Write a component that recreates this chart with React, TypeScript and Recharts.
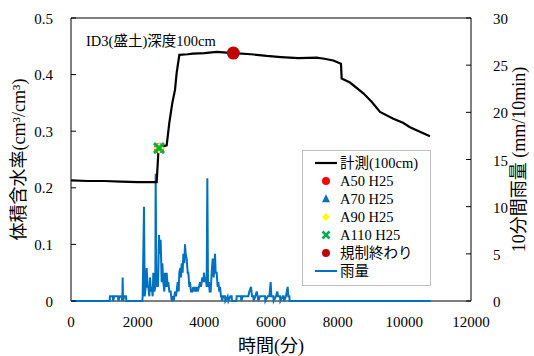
import { ComposedChart, Line, Scatter, XAxis, YAxis, ReferenceArea, Legend } from "recharts";

// volumetric water content at 100cm depth (minutes since start -> cm3/cm3)
const moistTimes = [
  0, 500, 1000, 1500, 2000, 2500, 2570, 2620, 2700, 2870, 2950, 3040, 3120, 3170, 3250,
  3500, 3660, 4000, 4370, 4870, 5400, 5870, 6300, 6820, 7370, 7600, 7870, 8100, 8120,
  8370, 8770, 9020, 9270, 9670, 9960, 10170, 10500, 10770,
];
const moistValues = [
  0.213, 0.212, 0.212, 0.211, 0.21, 0.21, 0.21, 0.262, 0.272, 0.275, 0.315, 0.35, 0.373, 0.403, 0.435,
  0.436, 0.437, 0.438, 0.44, 0.438, 0.436, 0.433, 0.431, 0.429, 0.43, 0.428, 0.425, 0.419, 0.393,
  0.386, 0.367, 0.352, 0.334, 0.322, 0.315, 0.307, 0.298, 0.291,
];

// 10-minute rainfall (mm/10min)
const rainTimes = [
  0, 1160, 1170, 1250, 1260, 1300, 1410, 1420, 1470, 1520, 1540, 1550, 1560, 1600, 1650, 1660,
  2140, 2150, 2190, 2210, 2240, 2270, 2300, 2320, 2350, 2370, 2400, 2420, 2450, 2470, 2500, 2530,
  2540, 2560, 2590, 2610, 2640, 2670, 2690, 2720, 2740, 2770, 2800, 2820, 2850, 2870, 2900, 2920,
  2950, 2990, 3020, 3050, 3080, 3120, 3150, 3200, 3230, 3250, 3280, 3300, 3320, 3350, 3370, 3400,
  3420, 3440, 3470, 3500, 3520, 3550, 3570, 3600, 3640, 3670, 3700, 3720, 3750, 3770, 3800, 3840,
  3870, 3900, 3940, 3970, 3990, 4020, 4040, 4070, 4090, 4110, 4140, 4160, 4190, 4220, 4250, 4280,
  4320, 4340, 4370, 4400, 4420, 4450, 4470, 4500, 4520, 4530, 4570, 4620, 4630, 4700, 4720, 4780,
  4820, 4830, 4960, 4970, 5100, 5110, 5150, 5320, 5350, 5400, 5430, 5470, 5480, 5530, 5570, 5600,
  5620, 5670, 5820, 5830, 5900, 5950, 5990, 6010, 6070, 6080, 6150, 6190, 6210, 6270, 6280, 6350,
  6380, 6390, 6450, 6500, 6520, 6550, 6560, 10800,
];
const rainMm = [
  0, 0, 0.5, 0.5, 0, 0.5, 0.5, 0, 0.5, 0.5, 0, 2.5, 0, 0.5, 0.5, 0,
  0, 0.5, 10, 0.5, 1.5, 3.5, 1.5, 1.5, 0.5, 2.5, 1, 1.5, 0.5, 3, 1, 1.5,
  13.5, 1.5, 2, 1.5, 7, 5, 6.5, 2, 4, 2, 1, 3, 1.5, 3, 1.5, 2,
  1, 1, 0, 0.5, 0, 1, 0.5, 2, 1, 3, 3.5, 2.5, 4, 3, 5, 4,
  6, 5, 4.5, 3, 3, 1.5, 2, 1, 1, 1.5, 1, 1.5, 1, 1.5, 1, 1.5,
  2, 1.5, 2.5, 2, 3, 2, 2.5, 1.5, 13, 1.5, 2, 1, 1, 3, 4.5, 2.5,
  5, 3, 3, 1.5, 2, 1, 1.5, 0.5, 0.5, 0, 0.5, 0.5, 0, 0.5, 0, 0.5,
  0.5, 0, 0, 0.5, 0.5, 0, 0.5, 0.5, 1, 1.5, 0.5, 0.5, 0, 0.5, 1, 0.5,
  0, 0.5, 0.5, 0, 0.5, 0.5, 2, 0.5, 0.5, 0, 0.5, 1, 0.5, 0.5, 0, 0.5,
  0.5, 0, 0.5, 1.5, 0.5, 0.5, 0, 0,
];

// threshold lines A50..A110 were all crossed at the same reading
const thresholdHit = [{ t: 2640, v: 0.27 }];
const regulationEnd = [{ t: 4870, v: 0.438 }];

const xTicks = [0, 2000, 4000, 6000, 8000, 10000, 12000];
const moistTicks = [0, 0.1, 0.2, 0.3, 0.4, 0.5];
const rainTicks = [0, 5, 10, 15, 20, 25, 30];

const moistData = moistTimes.map((t, i) => ({ t, v: moistValues[i] }));
const rainData = rainTimes.map((t, i) => ({ t, mm: rainMm[i] }));

const SERIF = "Liberation Serif, DejaVu Serif, Noto Sans CJK JP, serif";
const RAIN_BLUE = "#0070C0";

const Dot = ({ cx, cy, r, color }: any) => <circle cx={cx} cy={cy} r={r} fill={color} />;
const Tri = ({ cx, cy, s, color }: any) => (
  <polygon points={`${cx},${cy - s * 0.6} ${cx + s / 2},${cy + s * 0.4} ${cx - s / 2},${cy + s * 0.4}`} fill={color} />
);
const Diamond = ({ cx, cy, s, color }: any) => (
  <polygon points={`${cx},${cy - s / 2} ${cx + s / 2},${cy} ${cx},${cy + s / 2} ${cx - s / 2},${cy}`} fill={color} />
);
const Cross = ({ cx, cy, s, w, color }: any) => (
  <g stroke={color} strokeWidth={w}>
    <line x1={cx - s / 2} y1={cy - s / 2} x2={cx + s / 2} y2={cy + s / 2} />
    <line x1={cx - s / 2} y1={cy + s / 2} x2={cx + s / 2} y2={cy - s / 2} />
  </g>
);

function LeftTick({ x, y, payload }: any) {
  return (
    <g>
      <line x1={x + 18} x2={x + 23} y1={y} y2={y} stroke="#000" />
      <text x={x} y={y} dy={5.5} textAnchor="end" fontSize={15} style={{ fontFamily: SERIF }} fill="#000">
        {payload.value}
      </text>
    </g>
  );
}

function RightTick({ x, y, payload }: any) {
  return (
    <g>
      <line x1={x - 22} x2={x - 27} y1={y} y2={y} stroke="#000" />
      <text x={x} y={y} dy={6} textAnchor="start" fontSize={15} style={{ fontFamily: SERIF }} fill="#000">
        {payload.value}
      </text>
    </g>
  );
}

function BottomTick({ x, y, payload }: any) {
  return (
    <text x={x} y={y + 26} textAnchor="middle" fontSize={15} style={{ fontFamily: SERIF }} fill="#000">
      {payload.value}
    </text>
  );
}

function VTitle({ viewBox, cxOffset, text }: any) {
  const cx = viewBox.x + cxOffset;
  const cy = viewBox.y + viewBox.height / 2;
  return (
    <text x={cx} y={cy} transform={`rotate(-90 ${cx} ${cy})`} textAnchor="middle" dominantBaseline="central"
      fontSize={18} style={{ fontFamily: SERIF }} fill="#000">
      {text}
    </text>
  );
}

function XTitle({ viewBox }: any) {
  const cx = viewBox.x + viewBox.width / 2;
  return (
    <text x={cx} y={viewBox.y + 45} textAnchor="middle" dominantBaseline="central" fontSize={18}
      style={{ fontFamily: SERIF }} fill="#000">
      時間(分)
    </text>
  );
}

const legendRows = [
  { label: "計測(100cm)", icon: <line x1={2} x2={24} y1={7} y2={7} stroke="#000" strokeWidth={2.2} /> },
  { label: "A50 H25", icon: <Dot cx={13} cy={7} r={4} color="#FF0000" /> },
  { label: "A70 H25", icon: <Tri cx={13} cy={7} s={8} color={RAIN_BLUE} /> },
  { label: "A90 H25", icon: <Diamond cx={13} cy={7} s={8} color="#FFFF00" /> },
  { label: "A110 H25", icon: <Cross cx={13} cy={7} s={7} w={2.5} color="#00B050" /> },
  { label: "規制終わり", icon: <Dot cx={13} cy={7} r={4} color="#C00000" /> },
  { label: "雨量", icon: <line x1={2} x2={24} y1={7} y2={7} stroke={RAIN_BLUE} strokeWidth={2} /> },
];

function LegendBox() {
  return (
    <div
      style={{
        width: 127,
        height: 131,
        border: "1px solid #bfbfbf",
        background: "#fff",
        boxSizing: "content-box",
        paddingTop: 3,
        fontFamily: SERIF,
        fontSize: 14.5,
        color: "#000",
      }}
    >
      {legendRows.map((row) => (
        <div key={row.label} style={{ display: "flex", alignItems: "center", height: 18, paddingLeft: 10 }}>
          <svg width={26} height={14} style={{ flex: "none" }}>{row.icon}</svg>
          <span style={{ marginLeft: 1, whiteSpace: "nowrap", lineHeight: "18px" }}>{row.label}</span>
        </div>
      ))}
    </div>
  );
}

export default function App() {
  return (
    <div style={{ position: "relative", width: 534, height: 356, background: "#fff" }}>
      <style>{`body { margin: 0; }`}</style>
      <ComposedChart width={534} height={356} margin={{ top: 18, right: 0, bottom: 0, left: 0 }}>
        <XAxis
          type="number"
          dataKey="t"
          domain={[0, 12000]}
          ticks={xTicks}
          height={55}
          axisLine={false}
          tickLine={false}
          tickSize={0}
          tickMargin={0}
          tick={<BottomTick />}
          label={<XTitle />}
        />
        <YAxis
          yAxisId="left"
          type="number"
          domain={[0, 0.5]}
          ticks={moistTicks}
          width={71}
          axisLine={false}
          tickLine={false}
          tickSize={0}
          tickMargin={18}
          tick={<LeftTick />}
          label={<VTitle cxOffset={19} text="体積含水率(cm³/cm³)" />}
        />
        <YAxis
          yAxisId="rain"
          orientation="right"
          type="number"
          domain={[0, 30]}
          ticks={rainTicks}
          width={63}
          axisLine={false}
          tickLine={false}
          tickSize={0}
          tickMargin={22}
          tick={<RightTick />}
          label={<VTitle cxOffset={48} text="10分間雨量 (mm/10min)" />}
        />
        <ReferenceArea yAxisId="left" x1={0} x2={12000} y1={0} y2={0.5} fill="none" stroke="#000" strokeWidth={1} fillOpacity={0} />
        <Line
          yAxisId="rain"
          data={rainData}
          dataKey="mm"
          name="雨量"
          stroke={RAIN_BLUE}
          strokeWidth={2}
          dot={false}
          type="linear"
          isAnimationActive={false}
        />
        <Line
          yAxisId="left"
          data={moistData}
          dataKey="v"
          name="計測(100cm)"
          stroke="#000"
          strokeWidth={2.2}
          dot={false}
          type="linear"
          isAnimationActive={false}
        />
        <Scatter yAxisId="left" data={thresholdHit} dataKey="v" name="A50 H25" isAnimationActive={false}
          shape={(p: any) => <Dot cx={p.cx} cy={p.cy} r={5} color="#FF0000" />} />
        <Scatter yAxisId="left" data={thresholdHit} dataKey="v" name="A70 H25" isAnimationActive={false}
          shape={(p: any) => <Tri cx={p.cx} cy={p.cy} s={10} color={RAIN_BLUE} />} />
        <Scatter yAxisId="left" data={thresholdHit} dataKey="v" name="A90 H25" isAnimationActive={false}
          shape={(p: any) => <Diamond cx={p.cx} cy={p.cy} s={11} color="#FFFF00" />} />
        <Scatter yAxisId="left" data={thresholdHit} dataKey="v" name="A110 H25" isAnimationActive={false}
          shape={(p: any) => <Cross cx={p.cx} cy={p.cy} s={10} w={3} color="#00B050" />} />
        <Scatter yAxisId="left" data={regulationEnd} dataKey="v" name="規制終わり" isAnimationActive={false}
          shape={(p: any) => <Dot cx={p.cx} cy={p.cy} r={6.5} color="#C00000" />} />
        <Legend
          layout="vertical"
          align="center"
          verticalAlign="middle"
          content={() => <LegendBox />}
          wrapperStyle={{ left: 302, top: 150, width: "auto" }}
        />
      </ComposedChart>
      <div
        style={{
          position: "absolute",
          left: 86,
          top: 32,
          fontFamily: SERIF,
          fontSize: 14.5,
          lineHeight: "18px",
          color: "#000",
          whiteSpace: "nowrap",
        }}
      >
        ID3(盛土)深度100cm
      </div>
    </div>
  );
}
